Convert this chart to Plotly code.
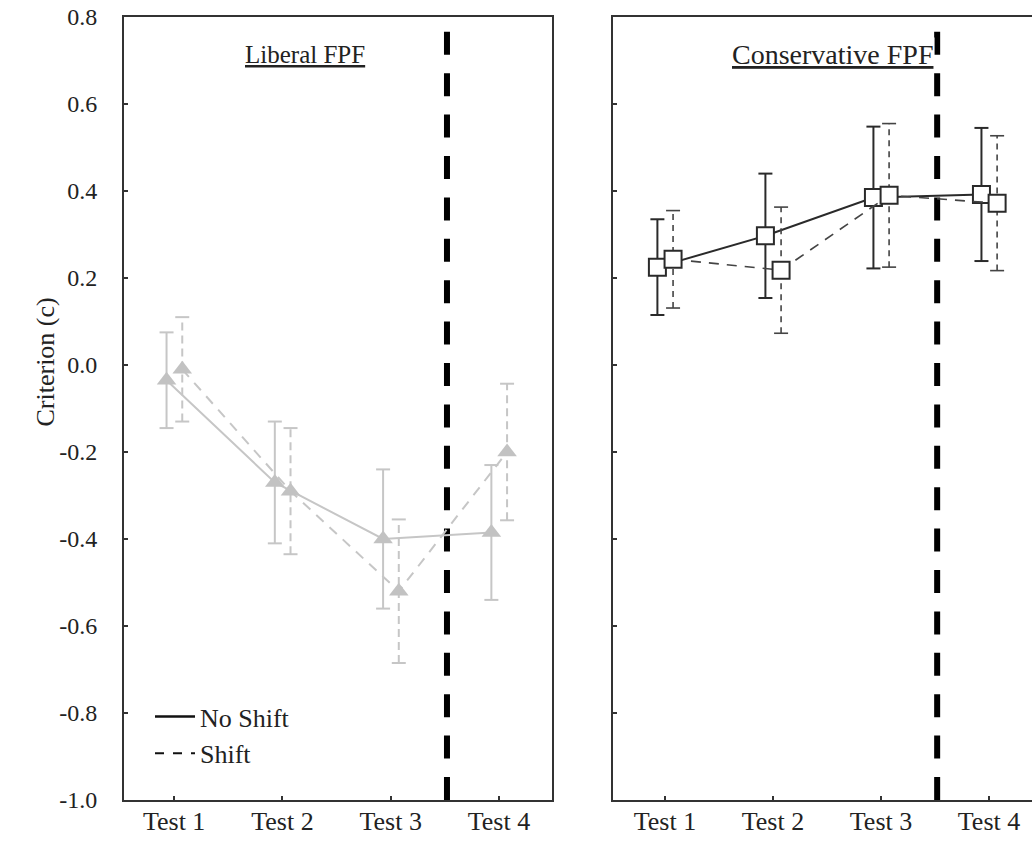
import plotly.graph_objects as go

# ---------------- data ----------------
categories = ["Test 1", "Test 2", "Test 3", "Test 4"]
y_tick_vals = [0.8, 0.6, 0.4, 0.2, 0.0, -0.2, -0.4, -0.6, -0.8, -1.0]
y_tick_text = ["0.8", "0.6", "0.4", "0.2", "0.0", "-0.2", "-0.4", "-0.6", "-0.8", "-1.0"]

lib_noshift = [-0.035, -0.27, -0.40, -0.385]
lib_noshift_err = [0.11, 0.14, 0.16, 0.155]
lib_shift = [-0.01, -0.29, -0.52, -0.20]
lib_shift_err = [0.12, 0.145, 0.165, 0.157]

con_noshift = [0.225, 0.297, 0.385, 0.392]
con_noshift_err = [0.11, 0.143, 0.163, 0.153]
con_shift = [0.243, 0.218, 0.39, 0.372]
con_shift_err = [0.112, 0.145, 0.165, 0.155]

shift_point = 3.52  # position of the shift (between Test 3 and Test 4)

# ---------------- style ----------------
FONT = "Liberation Serif"
W, H = 1032, 845
OFF_NS, OFF_S = -0.07, 0.075
LIGHT = "#c6c6c6"
DARK = "#2a2a2a"
AX = "#333333"

fig = go.Figure()
base_x = list(range(1, len(categories) + 1))


def add_series(xa, ya, means, errs, offset, color, dash, bar_dash, marker, lw, bar_w):
    xs = [b + offset for b in base_x]
    ex, ey = [], []
    cx, cy = [], []
    for x, m, e in zip(xs, means, errs):
        ex += [x, x, None]
        ey += [m - e, m + e, None]
        cx += [x, x]
        cy += [m - e, m + e]
    # error bar stems
    fig.add_trace(go.Scatter(x=ex, y=ey, mode="lines", xaxis=xa, yaxis=ya,
                             line=dict(color=color, width=bar_w, dash=bar_dash),
                             showlegend=False, hoverinfo="skip"))
    # caps
    fig.add_trace(go.Scatter(x=cx, y=cy, mode="markers", xaxis=xa, yaxis=ya,
                             marker=dict(symbol="line-ew", size=10,
                                         line=dict(color=color, width=bar_w)),
                             showlegend=False, hoverinfo="skip"))
    # connecting line + markers
    fig.add_trace(go.Scatter(x=xs, y=means, mode="lines+markers", xaxis=xa, yaxis=ya,
                             line=dict(color=color, width=lw, dash=dash),
                             marker=marker, showlegend=False))


tri = dict(symbol="triangle-up", size=17, color="#c2c2c2", line=dict(width=0))
sq = dict(symbol="square", size=17, color="white", line=dict(color=DARK, width=2))

# Liberal FPF (left)
add_series("x", "y", lib_noshift, lib_noshift_err, OFF_NS, LIGHT, "solid", "solid", tri, 2, 2)
add_series("x", "y", lib_shift, lib_shift_err, OFF_S, LIGHT, "10px,8px", "8px,5px", tri, 2, 2)
# Conservative FPF (right)
add_series("x2", "y2", con_noshift, con_noshift_err, OFF_NS, DARK, "solid", "solid", sq, 2, 2)
add_series("x2", "y2", con_shift, con_shift_err, OFF_S, "#444444", "10px,8px", "6px,5px", sq, 1.6, 1.6)

# legend entries
fig.add_trace(go.Scatter(x=[None], y=[None], mode="lines", name="No Shift",
                         line=dict(color="#111111", width=2.5)))
fig.add_trace(go.Scatter(x=[None], y=[None], mode="lines", name="Shift",
                         line=dict(color="#111111", width=2, dash="dash")))

# shift divider lines (drawn bottom -> top)
for xr, yr in (("x", "y"), ("x2", "y2")):
    fig.add_shape(type="line", xref=xr, yref=yr, x0=shift_point, x1=shift_point,
                  y0=-1.0, y1=0.8, layer="below",
                  line=dict(color="black", width=6, dash="23px,18.4px"))

ydom = [1 - 800 / H, 1 - 17 / H]
common_x = dict(showline=True, linecolor=AX, linewidth=2, mirror=True, ticks="inside",
                ticklen=4, tickwidth=2, tickcolor=AX, tickvals=base_x, ticktext=categories,
                tickfont=dict(family=FONT, size=26, color="#222"), showgrid=False,
                zeroline=False, fixedrange=True, automargin=False, ticklabelstandoff=-3)
common_y = dict(showline=True, linecolor=AX, linewidth=2, ticks="inside", ticklen=4,
                tickwidth=2, tickcolor=AX, tickvals=y_tick_vals, ticktext=y_tick_text,
                range=[-1.0, 0.8], domain=ydom, showgrid=False, zeroline=False,
                fixedrange=True, automargin=False,
                tickfont=dict(family=FONT, size=24, color="#222"))

fig.update_layout(
    width=W, height=H,
    margin=dict(l=0, r=0, t=0, b=0, autoexpand=False),
    paper_bgcolor="white", plot_bgcolor="white",
    xaxis=dict(domain=[124 / W, 552 / W], range=[0.537, 4.49], anchor="y", **common_x),
    yaxis=dict(anchor="x", mirror=True, showticklabels=True, ticklabelstandoff=20, **common_y),
    xaxis2=dict(domain=[613 / W, 1.0], range=[0.519, 4.398], anchor="y2", **common_x),
    yaxis2=dict(anchor="x2", mirror=False, showticklabels=False, **common_y),
    legend=dict(x=150 / W, y=1 - 693 / H, xanchor="left", yanchor="top",
                bgcolor="rgba(0,0,0,0)", font=dict(family=FONT, size=26, color="#222"),
                itemwidth=40, tracegroupgap=0),
    showlegend=True,
    annotations=[
        dict(text="Criterion (c)", x=28 / W, y=1 - 362 / H, xref="paper", yref="paper",
             textangle=-90, showarrow=False, font=dict(family=FONT, size=26, color="#222")),
        dict(text="<u>Liberal FPF</u>", x=0.423, y=1 - 54 / H, xref="x domain", yref="paper",
             yanchor="middle", showarrow=False, font=dict(family=FONT, size=25, color="#222")),
        dict(text="<u>Conservative FPF</u>", x=0.523, y=1 - 54 / H, xref="x2 domain", yref="paper",
             yanchor="middle", showarrow=False, bgcolor="white",
             font=dict(family=FONT, size=28, color="#222")),
    ],
)

fig.write_html("out.html", config={"displayModeBar": False},
               post_script="document.body.style.margin='0';document.body.style.overflow='hidden';")
